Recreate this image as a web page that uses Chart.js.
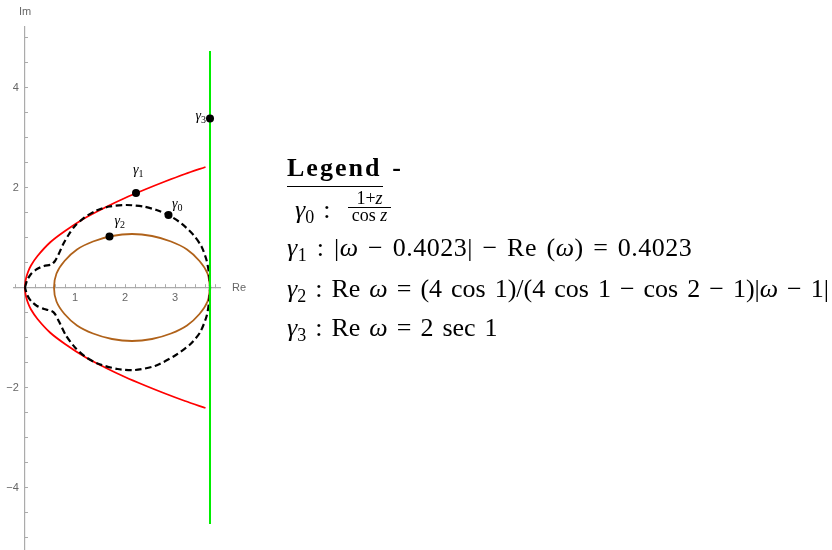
<!DOCTYPE html>
<html>
<head>
<meta charset="utf-8">
<script src="https://cdn.jsdelivr.net/npm/chart.js@4.4.1/dist/chart.umd.min.js"></script>
<style>
body { margin: 0; background: #fff; }
#wrap { position: relative; width: 832px; height: 550px; }
#wrap canvas { position: absolute; left: 0; top: 0; }
.tx { position: absolute; white-space: nowrap; font-family: "Liberation Serif", serif; font-size: 26px; line-height: 26px; color: #000; word-spacing: 2.5px; }
.tx i { font-style: italic; }
.sb { font-size: 18px; position: relative; top: 5px; }
.bar { position: absolute; background: #000; }
</style>
</head>
<body>
<div id="wrap">
  <canvas id="chart" width="832" height="550"></canvas>

  <div class="tx" style="left:287px; top:155px; font-weight:bold; letter-spacing:2px;">Legend&nbsp;-</div>
  <div class="bar" style="left:287px; top:185.5px; width:96px; height:1.5px;"></div>

  <div class="tx" style="left:295px; top:197px;"><i>γ</i><span class="sb">0</span> :</div>
  <div class="tx" style="left:348px; top:189px; width:43px; text-align:center; font-size:18px; line-height:18px; word-spacing:0;">1+<i>z</i></div>
  <div class="bar" style="left:348px; top:206.5px; width:43px; height:1px;"></div>
  <div class="tx" style="left:348px; top:205.5px; width:43px; text-align:center; font-size:18px; line-height:18px; word-spacing:0;">cos <i>z</i></div>

  <div class="tx" style="left:287px; top:235px; letter-spacing:0.5px;"><i>γ</i><span class="sb">1</span> : |<i>ω</i> − 0.4023| − Re (<i>ω</i>) = 0.4023</div>
  <div class="tx" style="left:287px; top:276px;"><i>γ</i><span class="sb">2</span> : Re <i>ω</i> = (4 cos 1)/(4 cos 1 − cos 2 − 1)|<i>ω</i> − 1|</div>
  <div class="tx" style="left:287px; top:315px;"><i>γ</i><span class="sb">3</span> : Re <i>ω</i> = 2 sec 1</div>
</div>

<script>
// γ0 : image of the boundary under (1+z)/cos z (black dashed)
const gamma0X = [0, 0.04, 0.12, 0.24, 0.38, 0.53, 0.6, 0.67, 0.76, 0.87, 0.99, 1.19, 1.43, 1.69, 2.03, 2.37, 2.63, 2.87, 3.13, 3.37, 3.53, 3.63, 3.68, 3.70,
                 3.68, 3.63, 3.5, 3.3, 2.97, 2.6, 2.2, 1.85, 1.45, 1.2, 1.0, 0.82, 0.68, 0.6, 0.53, 0.38, 0.24, 0.12, 0.04, 0];
const gamma0Y = [0, 0.14, 0.27, 0.37, 0.43, 0.46, 0.53, 0.66, 0.86, 1.05, 1.22, 1.40, 1.54, 1.62, 1.65, 1.62, 1.55, 1.45, 1.28, 1.05, 0.82, 0.55, 0.28, 0,
                 -0.3, -0.58, -0.9, -1.14, -1.38, -1.57, -1.65, -1.63, -1.52, -1.38, -1.2, -0.96, -0.68, -0.53, -0.47, -0.43, -0.37, -0.27, -0.14, 0];

// γ1 : parabola (red)
const gamma1X = [3.61, 3.2, 2.8, 2.4, 2.0, 1.6, 1.2, 0.8, 0.5, 0.25, 0.12, 0.06, 0.02, 0.005, 0,
                 0.005, 0.02, 0.06, 0.12, 0.25, 0.5, 0.8, 1.2, 1.6, 2.0, 2.4, 2.8, 3.2, 3.61];
const gamma1Y = [2.41, 2.27, 2.12, 1.96, 1.79, 1.6, 1.39, 1.13, 0.9, 0.63, 0.44, 0.31, 0.18, 0.09, 0,
                 -0.09, -0.18, -0.31, -0.44, -0.63, -0.9, -1.13, -1.39, -1.6, -1.79, -1.96, -2.12, -2.27, -2.41];

// γ2 : ellipse (brown)
const gamma2X = [3.70, 3.65, 3.49, 3.24, 2.92, 2.54, 2.14, 1.74, 1.36, 1.04, 0.79, 0.63, 0.58,
                 0.63, 0.79, 1.04, 1.36, 1.74, 2.14, 2.54, 2.92, 3.24, 3.49, 3.65, 3.70];
const gamma2Y = [0, 0.28, 0.53, 0.76, 0.92, 1.03, 1.07, 1.03, 0.92, 0.76, 0.53, 0.28, 0,
                 -0.28, -0.53, -0.76, -0.92, -1.03, -1.07, -1.03, -0.92, -0.76, -0.53, -0.28, 0];

// γ3 : vertical line Re w = 2 sec 1 (green)
const gamma3X = [3.70, 3.70];
const gamma3Y = [-4.73, 4.73];

// labelled points
const markX = [2.87, 2.22, 1.69, 3.70];
const markY = [1.45, 1.89, 1.02, 3.38];
const markNames = ['0', '1', '2', '3'];
// label offsets in px: dx, dy (baseline), anchor
const markOffsets = [[3.5, -7.5, 'left'], [-3, -19, 'left'], [5, -12, 'left'], [-4, 1.5, 'right']];

const xTickLabels = [1, 2, 3];
const yTickLabels = [-4, -2, 2, 4];

function pts(xs, ys) {
    return xs.map((v, i) => ({ x: v, y: ys[i] }));
}

const labelPlugin = {
    id: 'labelPlugin',
    afterDraw(chart) {
        const ctx = chart.ctx;
        const x = chart.scales.x;
        const y = chart.scales.y;
        ctx.save();
        ctx.fillStyle = '#666';
        ctx.font = '11px "Liberation Sans"';
        ctx.textBaseline = 'middle';
        ctx.textAlign = 'left';
        ctx.fillText('Re', x.right + 11.5, y.getPixelForValue(0));
        ctx.textAlign = 'center';
        ctx.fillText('Im', x.getPixelForValue(0), y.top - 15);

        ctx.fillStyle = '#000';
        ctx.textAlign = 'left';
        ctx.textBaseline = 'alphabetic';
        markX.forEach((mx, i) => {
            const off = markOffsets[i];
            const px = x.getPixelForValue(mx) + off[0];
            const py = y.getPixelForValue(markY[i]) + off[1];
            ctx.font = 'italic 14px "Liberation Serif"';
            const gw = ctx.measureText('γ').width;
            ctx.font = '10px "Liberation Serif"';
            const sw = ctx.measureText(markNames[i]).width;
            const left = off[2] === 'right' ? px - gw - sw : px;
            ctx.font = 'italic 14px "Liberation Serif"';
            ctx.fillText('γ', left, py);
            ctx.font = '10px "Liberation Serif"';
            ctx.fillText(markNames[i], left + gw, py + 3);
        });
        ctx.restore();
    }
};

function noPad(scale) {
    scale.paddingLeft = 0;
    scale.paddingRight = 0;
    scale.paddingTop = 0;
    scale.paddingBottom = 0;
}

const axisGrey = '#ababab';

new Chart(document.getElementById('chart').getContext('2d'), {
    type: 'scatter',
    data: {
        datasets: [
            {
                data: pts(markX, markY),
                showLine: false,
                pointRadius: 4,
                pointBackgroundColor: '#000',
                pointBorderWidth: 0
            },
            {
                data: pts(gamma3X, gamma3Y),
                showLine: true,
                borderColor: '#00ee00',
                borderWidth: 2,
                pointRadius: 0
            },
            {
                data: pts(gamma0X, gamma0Y),
                showLine: true,
                borderColor: '#000',
                borderWidth: 2.2,
                borderDash: [6.5, 3.5],
                tension: 0.25,
                pointRadius: 0
            },
            {
                data: pts(gamma2X, gamma2Y),
                showLine: true,
                borderColor: '#b0621a',
                borderWidth: 1.8,
                tension: 0.4,
                pointRadius: 0
            },
            {
                data: pts(gamma1X, gamma1Y),
                showLine: true,
                borderColor: '#ff0000',
                borderWidth: 1.8,
                tension: 0.3,
                pointRadius: 0
            }
        ]
    },
    options: {
        responsive: false,
        animation: false,
        layout: { autoPadding: false, padding: { left: 14, top: 27, right: 611.5, bottom: 0 } },
        plugins: { legend: { display: false }, tooltip: { enabled: false } },
        scales: {
            x: {
                type: 'linear',
                min: -0.22,
                max: 3.91,
                position: { y: 0 },
                afterFit: noPad,
                border: { display: true, color: axisGrey, width: 1.2 },
                grid: { display: true, drawOnChartArea: false, drawTicks: true, tickLength: -4, tickColor: axisGrey },
                ticks: {
                    stepSize: 0.2,
                    includeBounds: false,
                    autoSkip: false,
                    maxRotation: 0,
                    padding: 8,
                    color: '#666',
                    font: { family: 'Liberation Sans', size: 11 },
                    callback: v => {
                        const t = xTickLabels.find(k => Math.abs(k - v) < 1e-6);
                        return t === undefined ? '' : String(t);
                    }
                }
            },
            y: {
                type: 'linear',
                min: -5.25,
                max: 5.21,
                position: { x: 0 },
                afterFit: noPad,
                border: { display: true, color: axisGrey, width: 1.2 },
                grid: { display: true, drawOnChartArea: false, drawTicks: true, tickLength: -4, tickColor: axisGrey },
                ticks: {
                    stepSize: 0.5,
                    includeBounds: false,
                    autoSkip: false,
                    padding: 0,
                    color: '#666',
                    font: { family: 'Liberation Sans', size: 11 },
                    callback: v => {
                        const t = yTickLabels.find(k => Math.abs(k - v) < 1e-6);
                        return t === undefined ? '' : (t < 0 ? '\u2212' + Math.abs(t) : String(t)) + '  ';
                    }
                }
            }
        }
    },
    plugins: [labelPlugin]
});
</script>
</body>
</html>
